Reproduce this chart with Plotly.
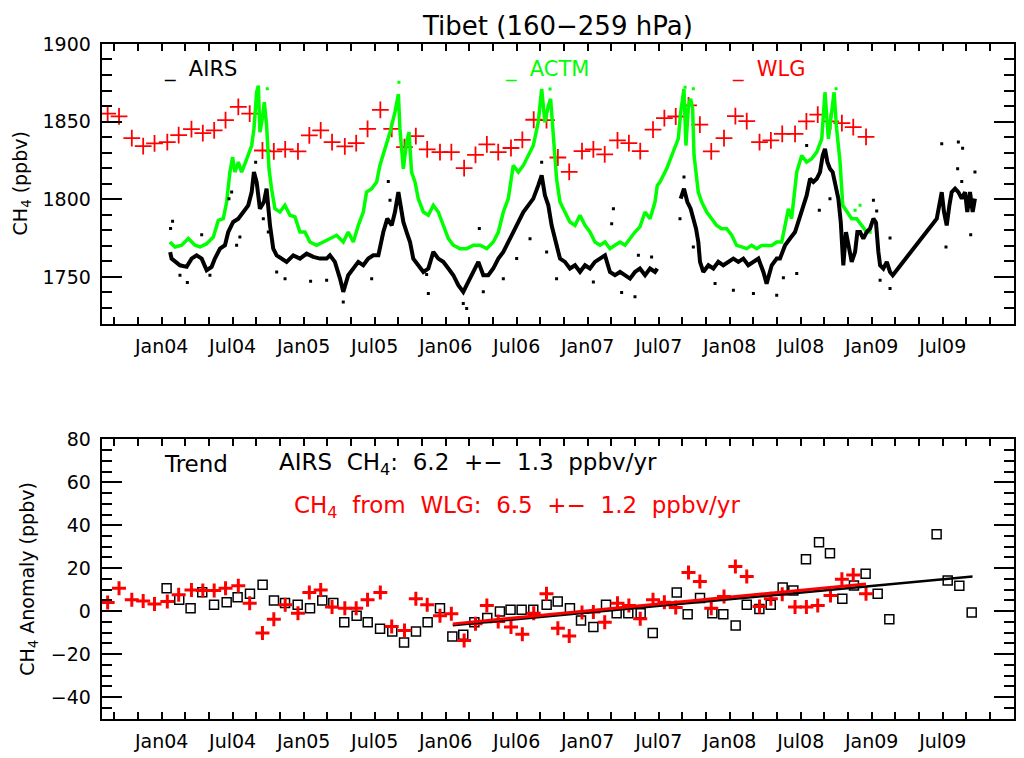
import plotly.graph_objects as go

# ---------------- data (decimal years, ppbv) ----------------
AIRS_YEAR = [2004.060, 2004.070, 2004.129, 2004.176, 2004.211, 2004.246, 2004.282, 2004.317, 2004.352, 2004.375,
             2004.411, 2004.446, 2004.469, 2004.504, 2004.540, 2004.575, 2004.610, 2004.634, 2004.650, 2004.669,
             2004.692, 2004.720, 2004.739, 2004.763, 2004.786, 2004.810, 2004.845, 2004.880, 2004.927, 2004.974,
             2005.021, 2005.068, 2005.115, 2005.162, 2005.185, 2005.220, 2005.256, 2005.279, 2005.314, 2005.350,
             2005.385, 2005.420, 2005.455, 2005.490, 2005.526, 2005.561, 2005.589, 2005.620, 2005.643, 2005.667,
             2005.683, 2005.702, 2005.725, 2005.749, 2005.772, 2005.807, 2005.843, 2005.878, 2005.913, 2005.948,
             2005.983, 2006.019, 2006.054, 2006.089, 2006.124, 2006.159, 2006.195, 2006.230, 2006.265, 2006.300,
             2006.335, 2006.371, 2006.406, 2006.441, 2006.476, 2006.512, 2006.547, 2006.582, 2006.617, 2006.652,
             2006.676, 2006.699, 2006.723, 2006.746, 2006.781, 2006.805, 2006.840, 2006.875, 2006.911, 2006.946,
             2006.981, 2007.016, 2007.051, 2007.087, 2007.122, 2007.157, 2007.192, 2007.228, 2007.263, 2007.298,
             2007.333, 2007.368, 2007.404, 2007.439, 2007.474, 2007.490, None, 2007.655, 2007.678, 2007.702,
             2007.725, 2007.744, 2007.763, 2007.779, 2007.791, 2007.814, 2007.850, 2007.885, 2007.920, 2007.955,
             2007.990, 2008.026, 2008.061, 2008.096, 2008.131, 2008.167, 2008.202, 2008.237, 2008.260, 2008.296,
             2008.331, 2008.354, 2008.390, 2008.425, 2008.460, 2008.483, 2008.507, 2008.542, 2008.566, 2008.589,
             2008.613, 2008.636, 2008.655, 2008.671, 2008.688, 2008.706, 2008.725, 2008.742, 2008.765, 2008.782,
             2008.791, 2008.800, 2008.819, 2008.836, 2008.859, 2008.883, 2008.899, 2008.918, 2008.941, 2008.965,
             2008.988, 2009.012, 2009.030, 2009.047, 2009.059, 2009.082, 2009.106, 2009.129, 2009.148, 2009.458,
             2009.476, 2009.493, 2009.509, 2009.528, 2009.547, 2009.563, 2009.587, 2009.610, 2009.634, 2009.657,
             2009.673, 2009.692, 2009.711, 2009.727]
AIRS_CH4 = [1766.0, 1761.8, 1757.5, 1756.5, 1761.8, 1763.9, 1761.8, 1754.3, 1756.5, 1761.8,
            1768.2, 1770.4, 1778.9, 1785.4, 1787.5, 1791.8, 1796.1, 1804.6, 1817.5, 1811.1,
            1793.9, 1798.2, 1806.8, 1783.2, 1768.2, 1763.9, 1761.8, 1759.7, 1763.9, 1761.8,
            1765.0, 1762.9, 1761.8, 1761.8, 1763.9, 1759.7, 1748.9, 1740.4, 1751.1, 1755.4,
            1759.7, 1757.5, 1761.8, 1763.9, 1763.9, 1778.9, 1787.5, 1783.2, 1791.8, 1804.6,
            1796.1, 1785.4, 1778.9, 1772.5, 1761.8, 1757.5, 1753.2, 1755.4, 1766.1, 1761.8,
            1759.7, 1755.4, 1751.1, 1744.7, 1740.4, 1746.8, 1753.2, 1759.7, 1751.1, 1751.1,
            1755.4, 1761.8, 1766.1, 1772.5, 1778.9, 1785.4, 1791.8, 1796.1, 1800.4, 1808.9,
            1815.4, 1802.5, 1796.1, 1783.2, 1770.4, 1761.8, 1759.7, 1755.4, 1757.5, 1753.2,
            1757.5, 1755.4, 1759.7, 1761.8, 1763.9, 1753.2, 1751.1, 1753.2, 1751.1, 1748.9,
            1753.2, 1755.4, 1751.1, 1755.4, 1753.2, 1755.4, None, 1800.4, 1806.8, 1798.2,
            1793.9, 1787.5, 1781.1, 1772.5, 1759.7, 1753.2, 1757.5, 1755.4, 1759.7, 1757.5,
            1759.7, 1761.8, 1759.7, 1761.8, 1757.5, 1759.7, 1761.8, 1753.2, 1745.7, 1757.5,
            1761.8, 1761.8, 1770.4, 1774.7, 1778.9, 1785.4, 1791.8, 1802.5, 1813.2, 1811.1,
            1813.2, 1817.5, 1828.2, 1832.5, 1823.9, 1819.6, 1817.5, 1808.9, 1800.4, 1785.4,
            1770.4, 1757.5, 1778.9, 1770.4, 1759.7, 1766.1, 1778.9, 1778.9, 1774.7, 1778.9,
            1781.1, 1787.5, 1785.0, 1766.1, 1757.5, 1755.4, 1759.7, 1753.2, 1751.1, 1787.5,
            1796.1, 1804.6, 1791.8, 1783.2, 1796.1, 1804.6, 1806.8, 1804.6, 1800.4, 1804.6,
            1791.8, 1804.6, 1791.8, 1800.4]

AIRS_DOT_YEAR = [2004.077, 2004.063, 2004.129, 2004.181, 2004.282, 2004.340, 2004.493, 2004.551, 2004.662, 2004.716,
                 2004.751, 2004.810, 2004.869, 2005.049, 2005.162, 2004.528, 2004.474, 2005.279, 2005.596, 2005.608,
                 2005.479, 2005.878, 2005.866, 2006.124, 2006.148, 2006.237, 2006.265, 2006.594, 2006.676, 2006.711,
                 2006.781, 2006.406, 2006.500, 2007.181, 2007.169, 2007.333, 2007.239, 2007.450, 2007.040, 2007.650,
                 2007.678, 2007.744, 2007.897, 2008.026, 2008.167, 2008.331, 2007.357, 2008.542, 2008.631, 2008.706,
                 2009.012, 2009.035, 2009.129, 2009.059, 2009.129, 2009.493, 2009.610, 2009.640, 2009.727, 2009.605,
                 2009.634, 2009.523, 2009.697, 2008.472, 2008.378]
AIRS_DOT_CH4 = [1785.8, 1781.1, 1751.1, 1746.4, 1777.2, 1751.1, 1804.6, 1775.7, 1823.9, 1787.5,
                1778.9, 1753.2, 1748.9, 1747.2, 1747.9, 1770.4, 1800.4, 1733.9, 1811.5, 1799.3,
                1748.9, 1739.3, 1751.5, 1732.9, 1729.7, 1781.1, 1740.4, 1774.6, 1823.9, 1766.1,
                1748.9, 1748.9, 1761.8, 1793.9, 1784.3, 1737.2, 1740.0, 1762.9, 1746.8, 1787.5,
                1814.3, 1769.3, 1745.7, 1741.5, 1739.3, 1738.2, 1764.0, 1834.6, 1792.9, 1800.4,
                1799.3, 1792.5, 1775.1, 1747.9, 1742.5, 1835.7, 1836.8, 1832.9, 1817.5, 1819.6,
                1811.5, 1769.3, 1777.2, 1752.2, 1749.4]

ACTM_YEAR = [2004.058, 2004.094, 2004.141, 2004.188, 2004.235, 2004.270, 2004.317, 2004.364, 2004.399, 2004.434,
             2004.458, 2004.481, 2004.500, 2004.516, 2004.540, 2004.563, 2004.587, 2004.610, 2004.634, 2004.650,
             2004.669, 2004.681, 2004.692, 2004.709, 2004.723, 2004.739, 2004.756, 2004.774, 2004.798, 2004.833,
             2004.868, 2004.904, 2004.939, 2004.974, 2005.009, 2005.044, 2005.091, 2005.138, 2005.185, 2005.232,
             2005.279, 2005.314, 2005.350, 2005.385, 2005.420, 2005.443, 2005.479, 2005.514, 2005.537, 2005.573,
             2005.608, 2005.643, 2005.667, 2005.678, 2005.702, 2005.725, 2005.742, 2005.760, 2005.784, 2005.807,
             2005.843, 2005.878, 2005.913, 2005.948, 2005.983, 2006.019, 2006.054, 2006.101, 2006.148, 2006.195,
             2006.242, 2006.289, 2006.335, 2006.371, 2006.406, 2006.441, 2006.476, 2006.512, 2006.547, 2006.582,
             2006.617, 2006.652, 2006.676, 2006.699, 2006.723, 2006.739, 2006.758, 2006.781, 2006.805, 2006.840,
             2006.875, 2006.911, 2006.946, 2006.981, 2007.016, 2007.051, 2007.087, 2007.122, 2007.157, 2007.192,
             2007.228, 2007.263, 2007.298, 2007.333, 2007.368, 2007.404, 2007.439, 2007.474, 2007.490, 2007.509,
             2007.556, 2007.603, 2007.638, 2007.655, 2007.669, 2007.678, 2007.692, 2007.709, 2007.725, 2007.739,
             2007.749, 2007.763, 2007.779, 2007.803, 2007.838, 2007.873, 2007.908, 2007.943, 2007.979, 2008.014,
             2008.049, 2008.084, 2008.119, 2008.155, 2008.190, 2008.225, 2008.260, 2008.296, 2008.331, 2008.366,
             2008.390, 2008.413, 2008.436, 2008.472, 2008.507, 2008.542, 2008.577, 2008.613, 2008.648, 2008.671,
             2008.695, 2008.718, 2008.735, 2008.753, 2008.777, 2008.796, 2008.824, 2008.859, 2008.894, 2008.929,
             2008.965, 2009.000]
ACTM_CH4 = [1772.5, 1769.3, 1770.4, 1774.7, 1770.4, 1769.3, 1771.4, 1775.7, 1786.4, 1787.5,
            1798.2, 1817.5, 1827.1, 1817.5, 1823.9, 1817.5, 1822.9, 1828.2, 1834.6, 1845.3,
            1868.9, 1873.2, 1843.2, 1851.8, 1862.5, 1847.5, 1819.6, 1806.8, 1793.9, 1791.8,
            1796.1, 1789.7, 1788.6, 1778.9, 1778.9, 1772.5, 1770.4, 1772.5, 1774.7, 1776.8,
            1772.5, 1778.9, 1772.5, 1783.2, 1791.8, 1804.6, 1806.8, 1811.1, 1821.8, 1832.5,
            1843.2, 1856.1, 1867.8, 1845.3, 1819.6, 1836.8, 1843.2, 1817.5, 1811.1, 1800.4,
            1791.8, 1789.7, 1796.1, 1791.8, 1783.2, 1774.7, 1770.4, 1768.2, 1768.2, 1770.4,
            1770.4, 1768.2, 1772.5, 1778.9, 1791.8, 1800.4, 1821.8, 1817.5, 1821.8, 1828.2,
            1834.6, 1849.6, 1871.1, 1849.6, 1860.3, 1864.6, 1838.9, 1813.2, 1798.2, 1791.8,
            1785.4, 1783.2, 1789.7, 1783.2, 1778.9, 1772.5, 1770.4, 1772.5, 1768.2, 1770.4,
            1772.5, 1770.4, 1774.7, 1778.9, 1782.2, 1791.8, 1787.5, 1798.2, 1808.9, 1811.1,
            1819.6, 1830.4, 1839.0, 1856.1, 1866.8, 1871.0, 1834.6, 1860.3, 1864.6, 1858.2,
            1828.2, 1817.5, 1804.6, 1798.2, 1791.8, 1787.5, 1783.2, 1781.0, 1781.0, 1776.8,
            1770.3, 1769.3, 1768.2, 1770.3, 1768.2, 1770.3, 1770.3, 1770.3, 1772.5, 1772.5,
            1783.2, 1793.9, 1787.5, 1817.5, 1828.2, 1823.9, 1826.1, 1830.4, 1838.9, 1868.9,
            1838.9, 1856.1, 1868.9, 1845.3, 1823.9, 1796.1, 1791.8, 1787.5, 1787.5, 1783.2,
            1778.9, 1778.9]

ACTM_DOT_YEAR = [2004.744, 2005.671, 2006.735, 2007.686, 2007.744, 2008.749, 2008.918, 2008.883]
ACTM_DOT_CH4 = [1871.1, 1875.3, 1871.0, 1872.1, 1871.1, 1871.1, 1796.1, 1792.9]

WLG_YEAR = [2003.62, 2003.70, 2003.79, 2003.87, 2003.95,
            2004.04, 2004.12, 2004.21, 2004.29, 2004.37, 2004.45, 2004.54, 2004.62, 2004.71, 2004.79, 2004.87, 2004.96,
            2005.04, 2005.12, 2005.20, 2005.29, 2005.37, 2005.45, 2005.54, 2005.62, 2005.71, 2005.79, 2005.87, 2005.96,
            2006.04, 2006.13, 2006.21, 2006.29, 2006.37, 2006.46, 2006.54, 2006.62, 2006.71, 2006.79, 2006.87, 2006.96,
            2007.04, 2007.12, 2007.21, 2007.29, 2007.37, 2007.46, 2007.54, 2007.62, 2007.71, 2007.79, 2007.87, 2007.96,
            2008.04, 2008.12, 2008.21, 2008.29, 2008.37, 2008.46, 2008.54, 2008.62, 2008.71, 2008.79, 2008.87, 2008.96]
WLG_CH4 = [1855.2, 1853.4, 1839.4, 1834.2, 1836.0,
           1836.8, 1841.3, 1845.1, 1842.6, 1844.3, 1850.9, 1859.5, 1855.2, 1831.4, 1830.8, 1832.1, 1830.8,
           1841.1, 1844.3, 1836.8, 1834.0, 1836.1, 1845.3, 1857.6, 1845.3, 1833.6, 1840.6, 1832.1, 1830.4,
           1830.4, 1820.1, 1828.6, 1835.3, 1830.4, 1833.0, 1838.3, 1851.2, 1851.0, 1826.9, 1817.7, 1831.0,
           1832.1, 1828.9, 1837.9, 1836.1, 1831.0, 1844.9, 1852.2, 1853.3, 1860.4, 1848.1, 1830.8, 1839.4,
           1853.5, 1850.3, 1836.8, 1837.9, 1842.1, 1842.1, 1850.2, 1854.5, 1850.1, 1849.0, 1846.4, 1840.2]

ANOM_AIRS_YEAR = [2004.035, 2004.124, 2004.204, 2004.286, 2004.369, 2004.458, 2004.535, 2004.622, 2004.711, 2004.791,
                  2004.869, 2004.958, 2005.045, 2005.131, 2005.209, 2005.286, 2005.373, 2005.451, 2005.538, 2005.624,
                  2005.707, 2005.791, 2005.873, 2005.960, 2006.047, 2006.124, 2006.202, 2006.293, 2006.382, 2006.457,
                  2006.535, 2006.617, 2006.711, 2006.789, 2006.875, 2006.953, 2007.040, 2007.129, 2007.204, 2007.286,
                  2007.373, 2007.458, 2007.627, 2007.704, 2007.791, 2007.878, 2007.955, 2008.042, 2008.120, 2008.209,
                  2008.289, 2008.373, 2008.448, 2008.537, 2008.629, 2008.706, 2008.793, 2008.875, 2008.957, 2009.042,
                  2009.124, 2009.457, 2009.535, 2009.617, 2009.704]
ANOM_AIRS = [10.7, 5.3, 1.4, 8.8, 3.0, 4.2, 6.5, 8.1, 12.3, 5.0,
             3.8, 3.0, 1.4, 5.0, 3.8, -5.1, -2.1, -5.1, -8.2, -9.4,
             -14.6, -9.4, -5.1, 1.4, -11.8, -11.0, -5.1, -3.2, -0.1, 0.7,
             0.7, 0.7, 3.0, 4.5, 1.4, -4.3, -7.4, 3.0, -0.9, -0.9,
             -0.9, -10.2, 8.7, -1.4, 6.1, -0.9, -1.4, -6.7, 3.0, 1.0,
             3.0, 11.0, 9.6, 24.2, 32.1, 27.0, 5.8, 12.0, 17.4, 8.1,
             -3.7, 35.8, 14.3, 11.8, -0.6]

ANOM_WLG_YEAR = WLG_YEAR
ANOM_WLG = [4.0, 10.7, 5.3, 4.8, 3.4,
            4.5, 7.6, 9.9, 9.6, 9.6, 10.7, 11.8, 3.7, -10.2, -3.7, 3.0, -0.9,
            8.7, 9.9, 1.9, 1.4, 1.4, 5.3, 8.7, -7.1, -9.0, 5.8, 3.0, -2.1,
            -1.2, -13.6, -5.9, 2.6, -4.8, -7.3, -10.7, -0.9, 8.1, -7.9, -11.5, -0.6,
            -0.4, -5.1, 3.7, 2.6, -3.5, 5.3, 4.2, 1.7, 18.0, 13.8, 1.4, 6.8,
            20.8, 16.1, 2.2, 5.8, 7.9, 1.9, 1.9, 2.6, 7.3, 14.9, 16.9, 8.1]

TREND_AIRS_YEAR = [2006.05, 2009.71]
TREND_AIRS = [-6.5, 16.1]
TREND_WLG_YEAR = [2006.05, 2008.96]
TREND_WLG = [-5.9, 12.7]

TICK_LABELS = ["Jan04", "Jul04", "Jan05", "Jul05", "Jan06", "Jul06", "Jan07",
               "Jul07", "Jan08", "Jul08", "Jan09", "Jul09"]

# ---------------- layout helpers ----------------
W, H = 1024, 758
FONT = "DejaVu Sans"
GREEN = "#00ff00"


def vy(target):
    # vertical placement, calibrated against the rendered page
    return (target - 10.3) / 0.987


L, R = 101.7, 1014.3
T1, B1 = vy(43.3), vy(323.3)
T2, B2 = vy(439.3), vy(719.0)


def px(xp):
    return xp / W


def py(yp):
    return 1 - yp / H


# labelled x ticks at Jan / Jul (from Jan 2004), unlabelled ticks every two months
tickvals = [2004 + 0.5 * i for i in range(len(TICK_LABELS))]

fig = go.Figure()

# ---- top panel ----
fig.add_trace(go.Scatter(x=WLG_YEAR, y=WLG_CH4, mode="markers", xaxis="x", yaxis="y",
                         marker=dict(symbol="cross-thin-open", size=12, color="red",
                                     line=dict(color="red", width=1.8))))
fig.add_trace(go.Scatter(x=ACTM_YEAR, y=ACTM_CH4, mode="lines", xaxis="x", yaxis="y",
                         line=dict(color=GREEN, width=3.5)))
fig.add_trace(go.Scatter(x=ACTM_DOT_YEAR, y=ACTM_DOT_CH4, mode="markers", xaxis="x", yaxis="y",
                         marker=dict(symbol="square", size=3, color=GREEN)))
fig.add_trace(go.Scatter(x=AIRS_YEAR, y=AIRS_CH4, mode="lines", xaxis="x", yaxis="y",
                         line=dict(color="black", width=4), connectgaps=False))
fig.add_trace(go.Scatter(x=AIRS_DOT_YEAR, y=AIRS_DOT_CH4, mode="markers", xaxis="x", yaxis="y",
                         marker=dict(symbol="square", size=3, color="black")))

# ---- bottom panel ----
fig.add_trace(go.Scatter(x=ANOM_AIRS_YEAR, y=ANOM_AIRS, mode="markers", xaxis="x2", yaxis="y2",
                         marker=dict(symbol="square-open", size=9, color="black",
                                     line=dict(color="black", width=1.5))))
fig.add_trace(go.Scatter(x=ANOM_WLG_YEAR, y=ANOM_WLG, mode="markers", xaxis="x2", yaxis="y2",
                         marker=dict(symbol="cross-thin-open", size=10, color="red",
                                     line=dict(color="red", width=3))))
fig.add_trace(go.Scatter(x=TREND_AIRS_YEAR, y=TREND_AIRS, mode="lines", xaxis="x2", yaxis="y2",
                         line=dict(color="black", width=2.5)))
fig.add_trace(go.Scatter(x=TREND_WLG_YEAR, y=TREND_WLG, mode="lines", xaxis="x2", yaxis="y2",
                         line=dict(color="red", width=3)))

xcommon = dict(range=[2003.578, 2010.004], tickmode="array", tickvals=tickvals, ticktext=TICK_LABELS,
               ticks="inside", ticklen=7, tickwidth=1.5, tickcolor="black",
               minor=dict(ticks="inside", ticklen=7, tickwidth=1.5, tickcolor="black",
                          tick0=2003 + 8 / 12, dtick=2 / 12),
               showline=True, linewidth=2, linecolor="black", mirror="allticks",
               showgrid=False, zeroline=False, tickfont=dict(family=FONT, size=19, color="black"),
               ticklabelstandoff=5, domain=[px(L), px(R)])
ycommon = dict(ticks="inside", ticklen=20, tickwidth=1.5, tickcolor="black",
               showline=True, linewidth=2, linecolor="black", mirror="allticks",
               showgrid=False, zeroline=False, tickfont=dict(family=FONT, size=19, color="black"),
               ticklabelstandoff=5)

fig.update_layout(
    width=W, height=H, margin=dict(l=0, r=0, t=0, b=0),
    paper_bgcolor="white", plot_bgcolor="white", showlegend=False,
    xaxis=dict(anchor="y", **xcommon),
    xaxis2=dict(anchor="y2", **xcommon),
    yaxis=dict(anchor="x", domain=[py(B1), py(T1)], range=[1720, 1900],
               tickmode="array", tickvals=[1750, 1800, 1850, 1900],
               minor=dict(ticks="inside", ticklen=10, tickwidth=1.5, tickcolor="black", tick0=1720, dtick=10),
               **ycommon),
    yaxis2=dict(anchor="x2", domain=[py(B2), py(T2)], range=[-50, 80],
                tickmode="array", tickvals=[-40, -20, 0, 20, 40, 60, 80],
                minor=dict(ticks="inside", ticklen=10, tickwidth=1.5, tickcolor="black", tick0=-50, dtick=5),
                **ycommon),
)

ann = [
    dict(text="Tibet (160−259 hPa)", x=px(557.5), y=py(vy(25)), xanchor="center", size=26, color="black"),
    dict(text="_  AIRS", x=px(161.7), y=py(vy(69)), xanchor="left", size=21, color="black"),
    dict(text="_  ACTM", x=px(503), y=py(vy(69)), xanchor="left", size=21, color=GREEN),
    dict(text="_  WLG", x=px(730), y=py(vy(69)), xanchor="left", size=21, color="red"),
    dict(text="Trend", x=px(161.7), y=py(vy(464)), xanchor="left", size=23, color="black"),
    dict(text="AIRS  CH<sub>4</sub>:  6.2  +−  1.3  ppbv/yr", x=px(276.7), y=py(vy(464)), xanchor="left",
         size=23, color="black"),
    dict(text="CH<sub>4</sub>  from  WLG:  6.5  +−  1.2  ppbv/yr", x=px(291.7), y=py(vy(507)), xanchor="left",
         size=23, color="red"),
]
for a in ann:
    fig.add_annotation(text=a["text"], x=a["x"], y=a["y"], xref="paper", yref="paper",
                       xanchor=a["xanchor"], yanchor="middle", showarrow=False,
                       font=dict(family=FONT, size=a["size"], color=a["color"]))

fig.add_annotation(text="CH<sub>4</sub> (ppbv)", x=px(21.7), y=py(vy(183.3)), xref="paper", yref="paper",
                   textangle=-90, showarrow=False, xanchor="center", yanchor="middle",
                   font=dict(family=FONT, size=19, color="black"))
fig.add_annotation(text="CH<sub>4</sub> Anomaly (ppbv)", x=px(29), y=py(vy(579)), xref="paper", yref="paper",
                   textangle=-90, showarrow=False, xanchor="center", yanchor="middle",
                   font=dict(family=FONT, size=19, color="black"))

PAGE_JS = ("document.documentElement.style.margin='0';document.body.style.margin='0';"
           "document.body.style.overflow='hidden';"
           "var d=document.querySelector('.plotly-graph-div');"
           "d.style.position='absolute';d.style.top='0px';d.style.left='0px';")
fig.write_html("out.html", config={"displayModeBar": False}, post_script=PAGE_JS)
